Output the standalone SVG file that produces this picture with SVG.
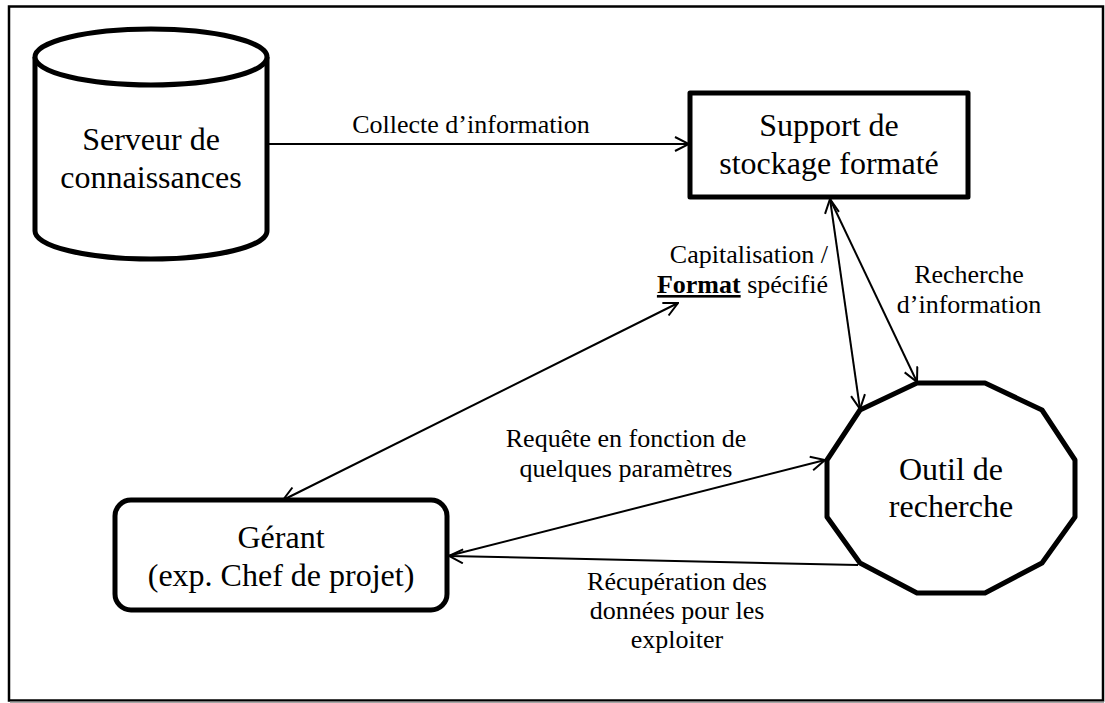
<svg xmlns="http://www.w3.org/2000/svg" width="1105" height="703" viewBox="0 0 1105 703">
<style>
.node{fill:#fff;stroke:#000;stroke-width:5;stroke-linejoin:round}
.conn{fill:none;stroke:#000;stroke-width:2}
.nt{font-family:"Liberation Serif","Times New Roman",serif;font-size:32px;fill:#000;text-anchor:middle}
.lt{font-family:"Liberation Serif","Times New Roman",serif;font-size:26px;fill:#000;text-anchor:middle}
</style>
<defs>
<marker id="arr" viewBox="0 0 16 16" markerWidth="16" markerHeight="16" refX="15" refY="8" orient="auto-start-reverse" markerUnits="userSpaceOnUse">
<path d="M1,1 L15,8 L1,15" fill="none" stroke="#000" stroke-width="2"/>
</marker>
</defs>
<rect x="0" y="0" width="1105" height="703" fill="#fff"/>
<rect id="frame" x="9" y="6.5" width="1094" height="694" fill="none" stroke="#000" stroke-width="2.5"/>
<line x1="10" y1="702" x2="1104" y2="702" stroke="#888" stroke-width="1.5"/>

<g id="connectors">
<line class="conn" x1="267" y1="144" x2="689" y2="144" marker-end="url(#arr)"/>
<line class="conn" x1="283" y1="500" x2="678" y2="303" marker-start="url(#arr)" marker-end="url(#arr)"/>
<line class="conn" x1="830" y1="199" x2="860" y2="409" marker-start="url(#arr)" marker-end="url(#arr)"/>
<line class="conn" x1="830" y1="199" x2="917" y2="382" marker-end="url(#arr)"/>
<line class="conn" x1="448" y1="556" x2="825" y2="460" marker-end="url(#arr)"/>
<line class="conn" x1="858" y1="565" x2="449" y2="556" marker-end="url(#arr)"/>
</g>

<g id="serveur">
<path class="node" stroke-width="4.5" d="M35,57 L35,231 A116,28 0 0 0 267,231 L267,57 A116,28 0 0 0 35,57 Z"/>
<path class="node" stroke-width="4.5" fill="none" d="M35,57 A116,28 0 0 0 267,57"/>
<text class="nt" x="151" y="150">Serveur de</text>
<text class="nt" x="151" y="188">connaissances</text>
</g>

<g id="support">
<rect class="node" x="690" y="93" width="278" height="104" stroke-linejoin="miter"/>
<text class="nt" x="829" y="136">Support de</text>
<text class="nt" x="829" y="174">stockage formaté</text>
</g>

<g id="outil">
<polygon class="node" stroke-linejoin="miter" points="917,383 985,383 1042,410 1075,460 1075,517 1042,563 985,593 917,593 860,563 827,517 827,460 860,410"/>
<text class="nt" x="951" y="480">Outil de</text>
<text class="nt" x="951" y="517">recherche</text>
</g>

<g id="gerant">
<rect class="node" x="115" y="500" width="332" height="110" rx="16" ry="16"/>
<text class="nt" x="281" y="548">Gérant</text>
<text class="nt" x="281" y="586">(exp. Chef de projet)</text>
</g>

<g id="labels">
<text class="lt" x="471" y="133">Collecte d’information</text>
<text class="lt" x="828" y="263" text-anchor="end" style="text-anchor:end">Capitalisation /</text>
<text class="lt" x="828" y="293" style="text-anchor:end"><tspan font-weight="bold" text-decoration="underline">Format</tspan> spécifié</text>
<text class="lt" x="969" y="283">Recherche</text>
<text class="lt" x="969" y="313">d’information</text>
<text class="lt" x="626" y="447">Requête en fonction de</text>
<text class="lt" x="626" y="477">quelques paramètres</text>
<text class="lt" x="677" y="590">Récupération des</text>
<text class="lt" x="677" y="619">données pour les</text>
<text class="lt" x="677" y="648">exploiter</text>
</g>
</svg>
